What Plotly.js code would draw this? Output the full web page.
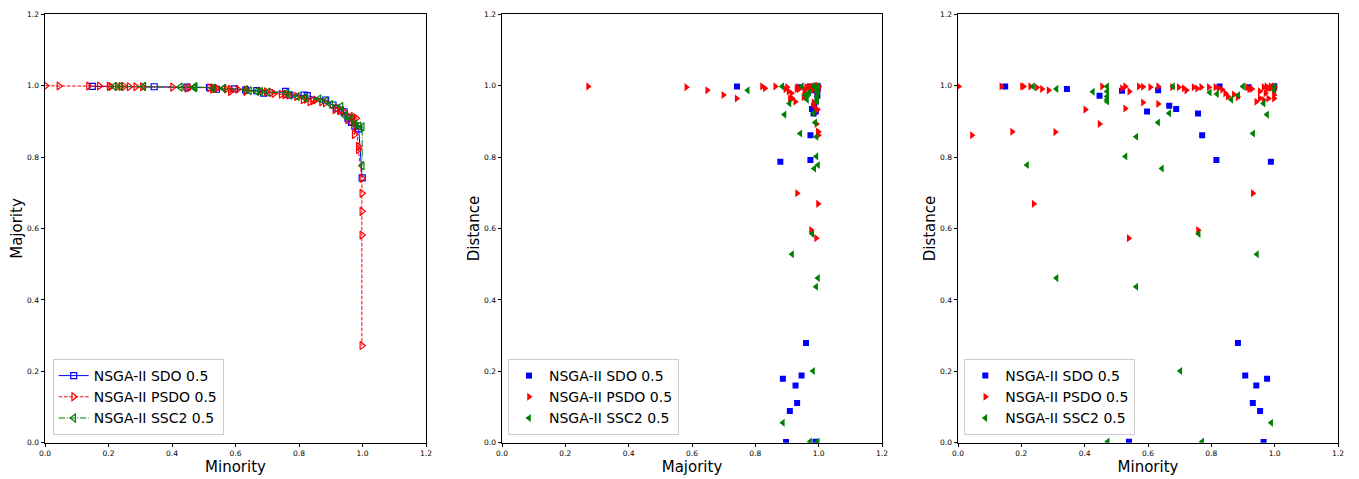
<!DOCTYPE html>
<html>
<head>
<meta charset="utf-8">
<script src="https://cdn.plot.ly/plotly-3.0.1.min.js"></script>
<style>html,body{margin:0;padding:0;background:#fff}</style>
</head>
<body>
<div id="chart" style="width:1359px;height:479px"></div>
<script>
// ---------- data ----------
const seriesNames = ["NSGA-II SDO 0.5", "NSGA-II PSDO 0.5", "NSGA-II SSC2 0.5"];
const axisTickLabels = ["0.0", "0.2", "0.4", "0.6", "0.8", "1.0", "1.2"];

// NSGA-II SDO 0.5
const sdoMinority = [0.149, 0.344, 0.447, 0.518, 0.540, 0.597, 0.632, 0.667, 0.689, 0.758, 0.771, 0.816,
  0.826, 0.884, 0.907, 0.918, 0.931, 0.942, 0.954, 0.965, 0.976, 0.988, 0.999];
const sdoMajority = [0.998, 0.997, 0.996, 0.995, 0.990, 0.991, 0.988, 0.986, 0.979, 0.984, 0.974, 0.974,
  0.972, 0.960, 0.946, 0.937, 0.932, 0.927, 0.909, 0.897, 0.887, 0.879, 0.742];
const sdoDistance = [0.998, 0.991, 0.972, 0.986, 0.003, 0.928, 0.987, 0.944, 0.935, 0.922, 0.861, 0.792,
  0.998, 0.279, 0.188, 0.996, 0.111, 0.160, 0.089, 0.002, 0.179, 0.787, 0.998];

// NSGA-II PSDO 0.5
const psdoMinority = [0.002, 0.044, 0.137, 0.171, 0.202, 0.207, 0.228, 0.239, 0.249, 0.265, 0.286, 0.307,
  0.402, 0.447, 0.455, 0.518, 0.528, 0.528, 0.539, 0.541, 0.571, 0.584, 0.584, 0.607, 0.632, 0.632,
  0.676, 0.697, 0.713, 0.721, 0.744, 0.755, 0.758, 0.768, 0.792, 0.813, 0.823, 0.834, 0.844, 0.852,
  0.871, 0.883, 0.913, 0.920, 0.928, 0.931, 0.942, 0.953, 0.953, 0.965, 0.965, 0.971, 0.976, 0.980,
  0.974, 0.987, 0.987, 0.998, 0.998, 0.998, 0.998, 0.998];
const psdoMajority = [1.000, 0.999, 0.999, 0.999, 0.998, 0.998, 0.998, 0.998, 0.998, 0.997, 0.997, 0.997,
  0.996, 0.993, 0.995, 0.994, 0.990, 0.994, 0.992, 0.993, 0.991, 0.990, 0.984, 0.990, 0.988, 0.984,
  0.985, 0.983, 0.981, 0.978, 0.976, 0.975, 0.976, 0.974, 0.970, 0.961, 0.962, 0.955, 0.958, 0.960,
  0.955, 0.952, 0.933, 0.937, 0.930, 0.932, 0.926, 0.916, 0.905, 0.910, 0.900, 0.914, 0.895, 0.909,
  0.863, 0.830, 0.821, 0.741, 0.699, 0.648, 0.582, 0.272];
const psdoDistance = [0.998, 0.861, 0.998, 0.871, 0.998, 0.998, 0.998, 0.669, 0.995, 0.991, 0.987, 0.870,
  0.933, 0.893, 0.998, 0.993, 0.936, 0.998, 0.573, 0.984, 0.998, 0.997, 0.953, 0.996, 0.998, 0.949,
  0.996, 0.996, 0.993, 0.987, 0.996, 0.992, 0.596, 0.996, 0.996, 0.996, 0.993, 0.989, 0.979, 0.970,
  0.975, 0.968, 0.996, 0.990, 0.991, 0.699, 0.955, 0.965, 0.984, 0.960, 0.996, 0.979, 0.990, 0.964,
  0.998, 0.993, 0.998, 0.964, 0.974, 0.987, 0.996, 0.998];

// NSGA-II SSC2 0.5
const ssc2Minority = [0.218, 0.237, 0.311, 0.311, 0.426, 0.471, 0.471, 0.471, 0.471, 0.471, 0.473, 0.529,
  0.563, 0.563, 0.632, 0.644, 0.667, 0.679, 0.702, 0.760, 0.771, 0.795, 0.818, 0.863, 0.885, 0.900,
  0.932, 0.944, 0.965, 0.976, 0.989, 0.999, 0.999];
const ssc2Majority = [0.998, 0.998, 0.998, 0.998, 0.996, 0.996, 0.996, 0.995, 0.995, 0.995, 0.997, 0.993,
  0.993, 0.992, 0.989, 0.986, 0.984, 0.984, 0.982, 0.980, 0.973, 0.970, 0.966, 0.963, 0.958, 0.947,
  0.942, 0.916, 0.908, 0.892, 0.887, 0.885, 0.776];
const ssc2Distance = [0.778, 0.998, 0.991, 0.461, 0.983, 0.998, 0.984, 0.970, 0.961, 0.956, 0.003, 0.802,
  0.857, 0.437, 0.897, 0.768, 0.923, 0.998, 0.201, 0.585, 0.003, 0.981, 0.977, 0.961, 0.973, 0.998,
  0.866, 0.528, 0.950, 0.919, 0.056, 0.998, 0.987];

// ---------- styles ----------
const colors = ["#0000ff", "#ff0000", "#008000"];
const openSymbols = ["square-open", "triangle-right-open", "triangle-left-open"];
const filledSymbols = ["square", "triangle-right", "triangle-left"];
const dashes = ["solid", "3.7px,1.6px", "6.4px,1.6px,1px,1.6px"];
const FONT = "DejaVu Sans, Liberation Sans, sans-serif";

const series = [
  {mi: sdoMinority, ma: sdoMajority, di: sdoDistance},
  {mi: psdoMinority, ma: psdoMajority, di: psdoDistance},
  {mi: ssc2Minority, ma: ssc2Majority, di: ssc2Distance}
];

const traces = [];
series.forEach((s, k) => {
  // panel 1: front, sorted by minority (ties: majority descending)
  const idx = s.mi.map((_, i) => i).sort((a, b) => (s.mi[a] - s.mi[b]) || (s.ma[b] - s.ma[a]));
  traces.push({
    type: "scatter", mode: "lines+markers", name: seriesNames[k],
    x: idx.map(i => s.mi[i]), y: idx.map(i => s.ma[i]),
    xaxis: "x", yaxis: "y", legend: "legend",
    line: {color: colors[k], width: 1, dash: dashes[k]},
    marker: {symbol: openSymbols[k], size: k === 0 ? 6 : 7, color: colors[k], line: {width: 1.2, color: colors[k]}}
  });
});
series.forEach((s, k) => {
  traces.push({
    type: "scatter", mode: "markers", name: seriesNames[k],
    x: s.ma, y: s.di, xaxis: "x2", yaxis: "y2", legend: "legend2",
    marker: {symbol: filledSymbols[k], size: k === 0 ? 6 : 7, color: colors[k], line: {width: 0}}
  });
});
series.forEach((s, k) => {
  traces.push({
    type: "scatter", mode: "markers", name: seriesNames[k],
    x: s.mi, y: s.di, xaxis: "x3", yaxis: "y3", legend: "legend3",
    marker: {symbol: filledSymbols[k], size: k === 0 ? 6 : 7, color: colors[k], line: {width: 0}}
  });
});

const W = 1359, H = 479;
const tickVals = axisTickLabels.map(Number);
function axis(domain, anchor, title, isX) {
  return {
    domain: domain, anchor: anchor, range: [0, 1.2], autorange: false,
    tickmode: "array", tickvals: tickVals, ticktext: axisTickLabels,
    showline: true, mirror: true, linecolor: "#000", linewidth: 1,
    ticks: "outside", ticklen: 3.5, tickwidth: 1, tickcolor: "#000",
    showgrid: false, zeroline: false, automargin: false,
    tickfont: {family: FONT, size: 7.5, color: "#000"},
    title: {text: title, font: {family: FONT, size: 15, color: "#000"}, standoff: isX ? 2 : 0}
  };
}
const yDom = [1 - 442.7 / H, 1 - 14.3 / H];
const legendBase = {
  bgcolor: "rgba(255,255,255,0.8)", bordercolor: "#cccccc", borderwidth: 1,
  font: {family: FONT, size: 14, color: "#000"},
  xanchor: "left", yanchor: "bottom", y: 1 - 435 / H, xref: "paper", yref: "paper"
};

const layout = {
  width: W, height: H, margin: {l: 0, r: 0, t: 0, b: 0},
  paper_bgcolor: "#fff", plot_bgcolor: "#fff",
  font: {family: FONT, color: "#000"},
  showlegend: true,
  xaxis: axis([45 / W, 426 / W], "y", "Minority", true),
  yaxis: axis(yDom, "x", "Majority", false),
  xaxis2: axis([502 / W, 882 / W], "y2", "Majority", true),
  yaxis2: axis(yDom, "x2", "Distance", false),
  xaxis3: axis([958 / W, 1338 / W], "y3", "Minority", true),
  yaxis3: axis(yDom, "x3", "Distance", false),
  legend: Object.assign({}, legendBase, {x: 52.7 / W}),
  legend2: Object.assign({}, legendBase, {x: 508 / W}),
  legend3: Object.assign({}, legendBase, {x: 964.3 / W})
};

Plotly.newPlot("chart", traces, layout, {displayModeBar: false, responsive: false, staticPlot: true});
</script>
</body>
</html>
